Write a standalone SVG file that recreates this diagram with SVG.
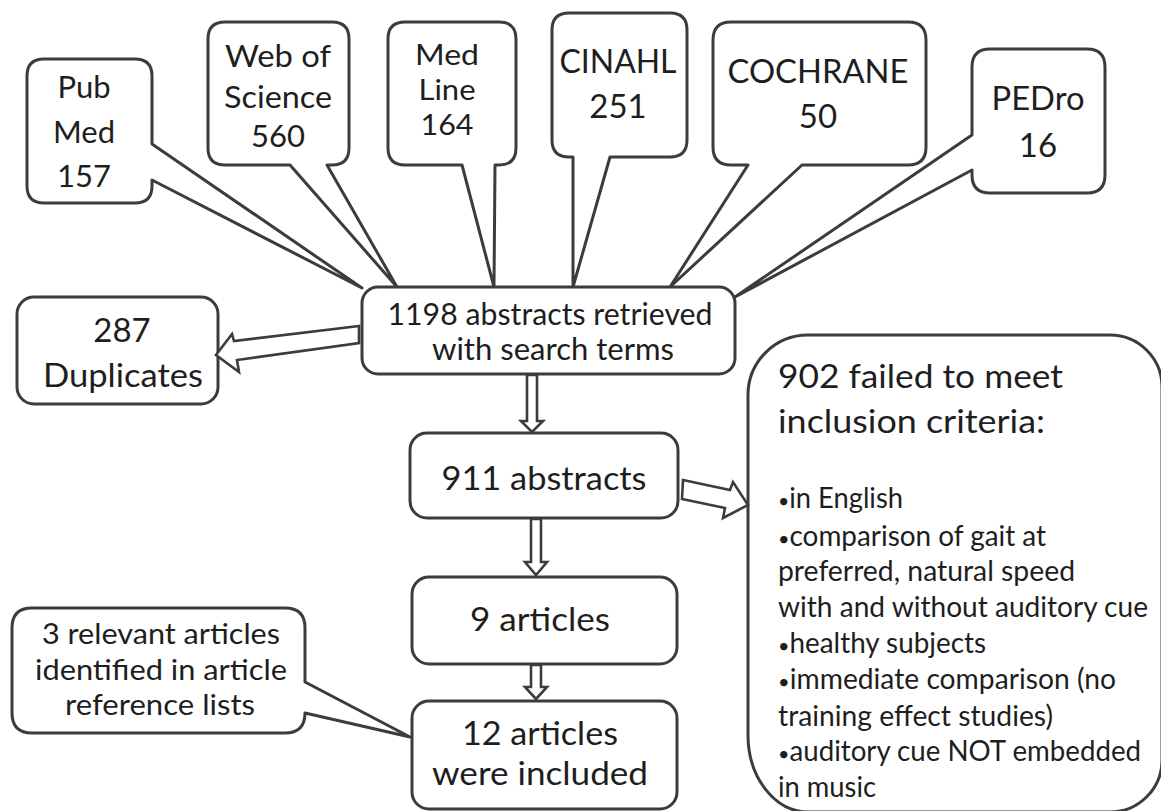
<svg xmlns="http://www.w3.org/2000/svg" width="1161" height="811" viewBox="0 0 1161 811">
<style>
.box{fill:#fff;stroke:#3c3c3c;stroke-width:3;stroke-linejoin:round}
.arr{fill:#fff;stroke:#3c3c3c;stroke-width:2.6;stroke-linejoin:miter}
text{font-family:Lato,"Open Sans","Liberation Sans",sans-serif;fill:#1e1e1e}
.c{text-anchor:middle}
.s29{font-size:29px}
.s31{font-size:31px}
.s33{font-size:33px}
.s30{font-size:30px}
.s28{font-size:28px}
.b{font-size:20px}
</style>
<rect width="1161" height="811" fill="#fff"/>

<g id="pubmed">
<path class="box" d="M44 59 H135 Q152 59 152 76 V144 L362 288 L152 180 V186 Q152 203 135 203 H44 Q27 203 27 186 V76 Q27 59 44 59 Z"/>
<text class="c s31" x="84" y="98">Pub</text>
<text class="c s31" x="84" y="143">Med</text>
<text class="c s31" x="84" y="187">157</text>
</g>

<g id="webofscience">
<path class="box" d="M225 22 H332 Q349 22 349 39 V148 Q349 165 332 165 H327 L397 287 L290 165 H225 Q208 165 208 148 V39 Q208 22 225 22 Z"/>
<text class="c s31" x="278" y="67" textLength="106" lengthAdjust="spacingAndGlyphs">Web of</text>
<text class="c s31" x="278" y="108" textLength="108" lengthAdjust="spacingAndGlyphs">Science</text>
<text class="c s31" x="278" y="147">560</text>
</g>

<g id="medline">
<path class="box" d="M405 22 H499 Q516 22 516 39 V148 Q516 165 499 165 H495 L494 287 L462 165 H405 Q388 165 388 148 V39 Q388 22 405 22 Z"/>
<text class="c s29" x="447" y="65" textLength="64" lengthAdjust="spacingAndGlyphs">Med</text>
<text class="c s29" x="447" y="100" textLength="57" lengthAdjust="spacingAndGlyphs">Line</text>
<text class="c s29" x="447" y="135" textLength="53" lengthAdjust="spacingAndGlyphs">164</text>
</g>

<g id="cinahl">
<path class="box" d="M569 13 H670 Q687 13 687 30 V140 Q687 157 670 157 H610 L573 287 L573 157 H569 Q552 157 552 140 V30 Q552 13 569 13 Z"/>
<text class="c s33" x="618" y="73" textLength="117" lengthAdjust="spacingAndGlyphs">CINAHL</text>
<text class="c s33" x="618" y="118">251</text>
</g>

<g id="cochrane">
<path class="box" d="M731 22 H908 Q926 22 926 40 V147 Q926 165 908 165 H802 L670 287 L748 165 H731 Q713 165 713 147 V40 Q713 22 731 22 Z"/>
<text class="c s33" x="818" y="83" textLength="181" lengthAdjust="spacingAndGlyphs">COCHRANE</text>
<text class="c s33" x="818" y="128">50</text>
</g>

<g id="pedro">
<path class="box" d="M990 49 H1087 Q1105 49 1105 67 V175 Q1105 193 1087 193 H990 Q972 193 972 175 V170 L735 297 L972 135 V67 Q972 49 990 49 Z"/>
<text class="c s33" x="1038" y="110" textLength="93" lengthAdjust="spacingAndGlyphs">PEDro</text>
<text class="c s33" x="1038" y="157">16</text>
</g>

<g id="retrieved">
<rect class="box" x="362" y="287" width="373" height="87" rx="16"/>
<text class="c s30" x="550" y="325" textLength="325" lengthAdjust="spacingAndGlyphs">1198 abstracts retrieved</text>
<text class="c s30" x="553" y="360" textLength="242" lengthAdjust="spacingAndGlyphs">with search terms</text>
</g>

<g id="duplicates">
<rect class="box" x="17" y="297" width="201" height="107" rx="17"/>
<text class="c s33" x="122" y="342">287</text>
<text class="c s33" x="123" y="387" textLength="160" lengthAdjust="spacingAndGlyphs">Duplicates</text>
</g>

<g id="abstracts911">
<rect class="box" x="410" y="433" width="268" height="85" rx="17"/>
<text class="c s33" x="544" y="490" textLength="205" lengthAdjust="spacingAndGlyphs">911 abstracts</text>
</g>

<g id="articles9">
<rect class="box" x="412" y="577" width="265" height="87" rx="17"/>
<text class="c s33" x="540" y="631" textLength="140" lengthAdjust="spacingAndGlyphs">9 articles</text>
</g>

<g id="articles12">
<rect class="box" x="412" y="701" width="265" height="108" rx="17"/>
<text class="c s33" x="540" y="745" textLength="156" lengthAdjust="spacingAndGlyphs">12 articles</text>
<text class="c s33" x="540" y="785" textLength="216" lengthAdjust="spacingAndGlyphs">were included</text>
</g>

<g id="reflists">
<path class="box" d="M32 608 H285 Q305 608 305 628 V682 L410 737 L305 713 V713 Q305 733 285 733 H32 Q12 733 12 713 V628 Q12 608 32 608 Z"/>
<text class="c s29" x="161" y="644" textLength="238" lengthAdjust="spacingAndGlyphs">3 relevant articles</text>
<text class="c s29" x="161" y="680" textLength="252" lengthAdjust="spacingAndGlyphs">identified in article</text>
<text class="c s29" x="160" y="715" textLength="190" lengthAdjust="spacingAndGlyphs">reference lists</text>
</g>

<g id="excluded">
<path class="box" d="M808 335 H1110 A52 52 0 0 1 1162 387 V760 A52 52 0 0 1 1110 812 H808 A60 77 0 0 1 748 735 V395 A60 60 0 0 1 808 335 Z"/>
<text class="s33" x="778" y="388" textLength="285" lengthAdjust="spacingAndGlyphs">902 failed to meet</text>
<text class="s33" x="778" y="433" textLength="267" lengthAdjust="spacingAndGlyphs">inclusion criteria:</text>
<text class="s28" x="778" y="508" textLength="125" lengthAdjust="spacingAndGlyphs"><tspan class="b">•</tspan>in English</text>
<text class="s28" x="778" y="546" textLength="268" lengthAdjust="spacingAndGlyphs"><tspan class="b">•</tspan>comparison of gait at</text>
<text class="s28" x="778" y="581" textLength="297" lengthAdjust="spacingAndGlyphs">preferred, natural speed</text>
<text class="s28" x="778" y="617" textLength="370" lengthAdjust="spacingAndGlyphs">with and without auditory cue</text>
<text class="s28" x="778" y="653" textLength="208" lengthAdjust="spacingAndGlyphs"><tspan class="b">•</tspan>healthy subjects</text>
<text class="s28" x="778" y="689" textLength="338" lengthAdjust="spacingAndGlyphs"><tspan class="b">•</tspan>immediate comparison (no</text>
<text class="s28" x="778" y="726" textLength="275" lengthAdjust="spacingAndGlyphs">training effect studies)</text>
<text class="s28" x="778" y="761" textLength="363" lengthAdjust="spacingAndGlyphs"><tspan class="b">•</tspan>auditory cue NOT embedded</text>
<text class="s28" x="778" y="797" textLength="98" lengthAdjust="spacingAndGlyphs">in music</text>
</g>

<g id="connectors">
<polygon class="arr" points="359,326 234,341 232,334 216,355 239,372 237,360 359,343"/>
<polygon class="arr" points="527,375 537,375 537,421 543,421 532,432 521,421 527,421"/>
<polygon class="arr" points="683,480 730,490 733,482 748,505 723,518 725,508 682,499"/>
<polygon class="arr" points="531,519 541,519 541,562 547,562 536,575 525,562 531,562"/>
<polygon class="arr" points="531,665 541,665 541,687 547,687 536,699 525,687 531,687"/>
</g>
</svg>
